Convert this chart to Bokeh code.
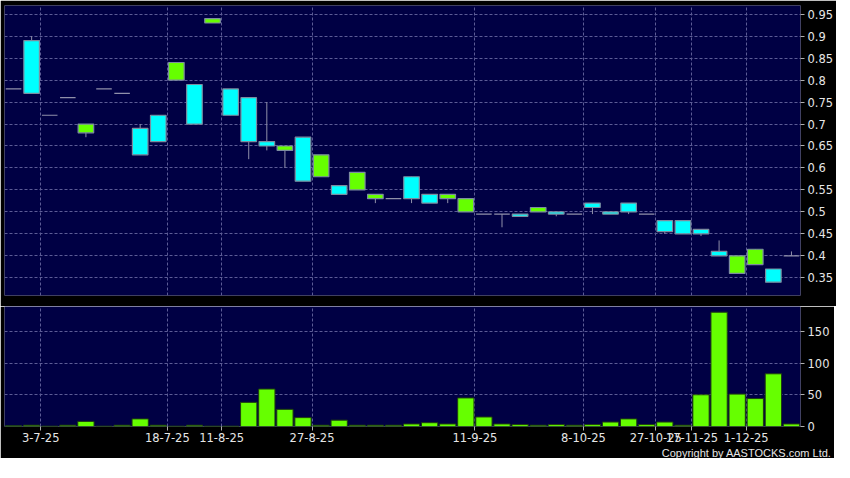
from bokeh.plotting import figure
from bokeh.layouts import column
from bokeh.models import Range1d, FixedTicker, Title, ColumnDataSource
from bokeh.embed import file_html
from bokeh.resources import INLINE

# ---- data ----
opens = [0.78, 0.89, 0.72, 0.76, 0.68, 0.78, 0.77, 0.69, 0.72, 0.80,
         0.79, 0.93, 0.78, 0.76, 0.66, 0.64, 0.67, 0.58, 0.56, 0.55,
         0.53, 0.53, 0.58, 0.54, 0.53, 0.50, 0.495, 0.495, 0.495, 0.50,
         0.50, 0.495, 0.52, 0.50, 0.52, 0.495, 0.48, 0.48, 0.46, 0.41,
         0.36, 0.38, 0.37, 0.40]
highs = [0.78, 0.90, 0.72, 0.76, 0.70, 0.78, 0.77, 0.70, 0.72, 0.84,
         0.79, 0.94, 0.78, 0.76, 0.75, 0.65, 0.67, 0.63, 0.56, 0.59,
         0.54, 0.53, 0.58, 0.54, 0.54, 0.53, 0.495, 0.495, 0.495, 0.51,
         0.50, 0.495, 0.52, 0.50, 0.52, 0.495, 0.48, 0.48, 0.46, 0.435,
         0.40, 0.415, 0.37, 0.41]
lows = [0.78, 0.77, 0.72, 0.76, 0.67, 0.78, 0.77, 0.63, 0.66, 0.80,
        0.70, 0.93, 0.72, 0.62, 0.64, 0.60, 0.57, 0.58, 0.54, 0.55,
        0.52, 0.53, 0.52, 0.52, 0.52, 0.50, 0.495, 0.465, 0.49, 0.50,
        0.49, 0.495, 0.495, 0.495, 0.495, 0.495, 0.45, 0.45, 0.445, 0.40,
        0.36, 0.38, 0.34, 0.40]
closes = [0.78, 0.77, 0.72, 0.76, 0.70, 0.78, 0.77, 0.63, 0.66, 0.84,
          0.70, 0.94, 0.72, 0.66, 0.65, 0.65, 0.57, 0.63, 0.54, 0.59,
          0.54, 0.53, 0.53, 0.52, 0.54, 0.53, 0.495, 0.495, 0.49, 0.51,
          0.495, 0.495, 0.51, 0.495, 0.50, 0.495, 0.455, 0.45, 0.45, 0.40,
          0.40, 0.415, 0.34, 0.40]
volumes = [1, 2, 0.5, 2, 8, 0.5, 2, 12, 2, 0.5,
           2, 0.5, 0.5, 38, 59, 27, 14, 2, 10, 2,
           2, 2, 4, 6, 4, 45, 15, 4, 3, 2,
           3, 2, 3, 7, 12, 3, 7, 2, 50, 180,
           51, 44, 83, 4]
date_labels = ["3-7-25", "18-7-25", "11-8-25", "27-8-25", "11-9-25",
               "8-10-25", "27-10-25", "17-11-25", "1-12-25"]
date_label_candle = [1, 8, 11, 16, 25, 31, 35, 37, 40]
price_tick_labels = ["0.35", "0.4", "0.45", "0.5", "0.55", "0.6", "0.65",
                     "0.7", "0.75", "0.8", "0.85", "0.9", "0.95"]
volume_tick_labels = ["0", "50", "100", "150"]

# ---- styles ----
BG = "#000044"
GRID = "#5c5c96"
UP = "#66FF00"
DOWN = "#00FFFF"
EDGE = "#7c8ca0"
WICK = "#9090aa"
TXT = "#e6e6e6"
FONT = "DejaVu Sans"
FW = 796          # frame width (both panels)
RB = 34           # right border (axis labels)

n = len(closes)
idx = list(range(n))
xr = Range1d(-0.5, n - 0.5)

x_ticks = [i + 0.5 for i in date_label_candle]
p_ticks = [float(s) for s in price_tick_labels]
v_ticks = [float(s) for s in volume_tick_labels]

# ---- price panel ----
p1 = figure(frame_width=FW, frame_height=290, x_range=xr,
            y_range=Range1d(0.3097, 0.9698), y_axis_location="right",
            x_axis_location=None, title=None, output_backend="svg",
            toolbar_location=None, background_fill_color=BG,
            border_fill_color="black", min_border_left=4, min_border_top=5,
            min_border_bottom=11, min_border_right=RB, outline_line_color=None)

body_idx = [i for i in idx if opens[i] != closes[i]]
flat_idx = [i for i in idx if opens[i] == closes[i]]

wick_src = ColumnDataSource(dict(x=idx, hi=highs, lo=lows))
p1.segment(x0="x", y0="hi", x1="x", y1="lo", source=wick_src,
           line_color=WICK, line_width=1)

body_src = ColumnDataSource(dict(
    x=body_idx,
    top=[max(opens[i], closes[i]) for i in body_idx],
    bottom=[min(opens[i], closes[i]) for i in body_idx],
    color=[UP if closes[i] > opens[i] else DOWN for i in body_idx]))
p1.vbar(x="x", width=0.86, top="top", bottom="bottom", source=body_src,
        fill_color="color", line_color=EDGE, line_width=1.2)

flat_src = ColumnDataSource(dict(
    x0=[i - 0.43 for i in flat_idx], x1=[i + 0.43 for i in flat_idx],
    y=[closes[i] for i in flat_idx]))
p1.segment(x0="x0", y0="y", x1="x1", y1="y", source=flat_src,
           line_color=WICK, line_width=1.2)

p1.xgrid.ticker = FixedTicker(ticks=x_ticks)
p1.ygrid.ticker = FixedTicker(ticks=p_ticks)
for g in (p1.xgrid, p1.ygrid):
    g.grid_line_color = GRID
    g.grid_line_dash = "3 2"
    g.grid_line_width = 1

ya = p1.yaxis[0]
ya.ticker = FixedTicker(ticks=p_ticks)
ya.major_label_overrides = dict(zip(p_ticks, price_tick_labels))

# ---- volume panel ----
p2 = figure(frame_width=FW, frame_height=120, x_range=xr,
            y_range=Range1d(0, 189), y_axis_location="right", title=None,
            output_backend="svg", toolbar_location=None,
            background_fill_color=BG, border_fill_color="black",
            min_border_left=4, min_border_top=0, min_border_bottom=0,
            min_border_right=RB, outline_line_color=None)

vol_src = ColumnDataSource(dict(x=idx, v=volumes))
p2.vbar(x="x", width=0.9, top="v", bottom=0, source=vol_src,
        fill_color=UP, line_color="#1f3d10", line_width=1)

p2.xgrid.ticker = FixedTicker(ticks=x_ticks)
p2.ygrid.ticker = FixedTicker(ticks=v_ticks)
for g in (p2.xgrid, p2.ygrid):
    g.grid_line_color = GRID
    g.grid_line_dash = "3 2"
    g.grid_line_width = 1

xa = p2.xaxis[0]
xa.ticker = FixedTicker(ticks=x_ticks)
xa.major_label_overrides = dict(zip(x_ticks, date_labels))
va = p2.yaxis[0]
va.ticker = FixedTicker(ticks=v_ticks)
va.major_label_overrides = dict(zip(v_ticks, volume_tick_labels))

for ax in (ya, xa, va):
    ax.axis_line_color = None
    ax.major_tick_in = 0
    ax.major_tick_out = 4
    ax.major_tick_line_color = "#b0b0b0"
    ax.minor_tick_line_color = None
    ax.major_label_text_color = TXT
    ax.major_label_text_font = FONT
    ax.major_label_text_font_size = "11.5px"
    ax.major_label_standoff = 3
xa.major_label_standoff = 2

p2.add_layout(Title(text="Copyright by AASTOCKS.com Ltd.", align="right",
                    text_color=TXT, text_font="Liberation Sans",
                    text_font_size="11px", text_font_style="normal",
                    standoff=0, offset=-31), "below")

layout = column(p1, p2, spacing=0)
open("out.html", "w").write(file_html(layout, INLINE))
